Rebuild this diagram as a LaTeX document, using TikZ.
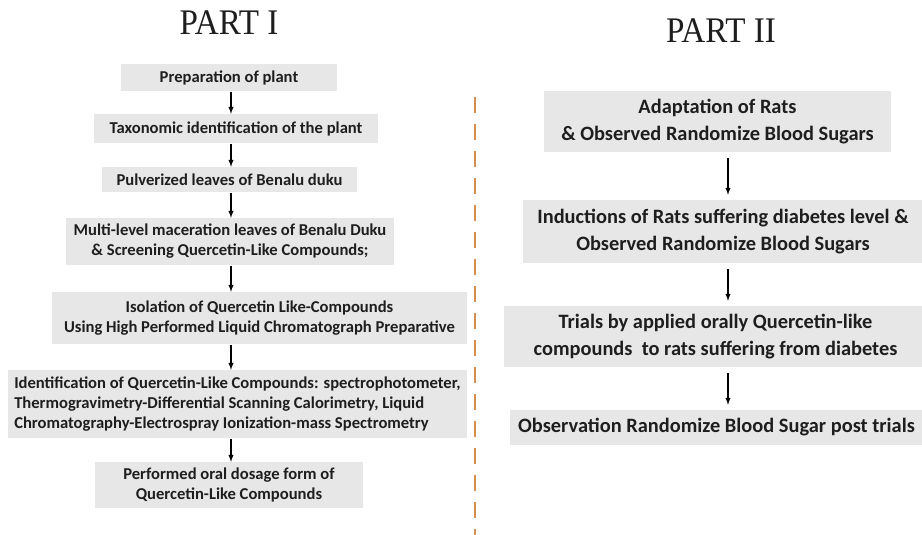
\documentclass[tikz,border=0pt]{standalone}
\usepackage{fontspec}
\setmainfont{Carlito}
\newfontfamily\partfont[FakeStretch=0.92]{Liberation Serif}
\usepackage{tikz}
\usetikzlibrary{arrows,positioning,calc}

\definecolor{boxgray}{RGB}{231,231,231}
\definecolor{inkgray}{RGB}{30,30,30}
\definecolor{splitorange}{RGB}{214,142,78}

\begin{document}
\begin{tikzpicture}[x=1pt,y=-1pt]
\tikzset{stage/.style={fill=boxgray,text=inkgray,align=center,inner sep=0pt,
font=\bfseries\fontsize{16.6}{20}\selectfont}}
\tikzset{stageR/.style={stage,font=\bfseries\fontsize{20.4}{26.5}\selectfont}}
\tikzset{flow/.style={draw=black,line width=1.4pt,-latex}}
\tikzset{part/.style={anchor=base,text=inkgray,font=\partfont\fontsize{36}{36}\selectfont}}
\useasboundingbox (0,0) rectangle (922,535);

\node[part] (partone) at (229,35) {PART I};
\node[part] (parttwo) at (721,43) {PART II};

\node[stage,minimum width=216pt,minimum height=27pt] (prep) at (229,77.5) {Preparation of plant};
\node[stage,minimum width=284pt,minimum height=29pt] (taxo) at (236,128.5) {Taxonomic identification of the plant};
\node[stage,minimum width=255pt,minimum height=25pt] (pulv) at (229.5,179.5) {Pulverized leaves of Benalu duku};
\node[stage,minimum width=328pt,minimum height=47pt] (macer) at (230,241.5)
{Multi-level maceration leaves of Benalu Duku\\\& Screening Quercetin-Like Compounds;};
\node[stage,minimum width=415pt,minimum height=52pt] (isol) at (259.5,318)
{Isolation of Quercetin Like-Compounds\\Using High Performed Liquid Chromatograph Preparative};
\node[stage,align=left,minimum width=459pt,minimum height=68pt] (ident) at (237.5,404)
{Identification of Quercetin-Like Compounds: spectrophotometer,\\Thermogravimetry-Differential Scanning Calorimetry, Liquid\\Chromatography-Electrospray Ionization-mass Spectrometry};
\node[stage,minimum width=268pt,minimum height=46pt] (oral) at (229,485)
{Performed oral dosage form of\\Quercetin-Like Compounds};

\node[stageR,minimum width=347pt,minimum height=61pt] (adapt) at (717.5,121.5)
{Adaptation of Rats\\\& Observed Randomize Blood Sugars};
\node[stageR,minimum width=400pt,minimum height=63pt] (induct) at (723,231.5)
{Inductions of Rats suffering diabetes level \&\\Observed Randomize Blood Sugars};
\node[stageR,minimum width=423pt,minimum height=61pt] (trial) at (715.5,336.5)
{Trials by applied orally Quercetin-like\\compounds\ \ to rats suffering from diabetes};
\node[stageR,minimum width=413pt,minimum height=35pt] (observ) at (716.5,427.5)
{Observation Randomize Blood Sugar post trials};

\coordinate (axisL) at (231,0);
\coordinate (axisR) at (728,0);
\foreach \a/\b in {prep/taxo,taxo/pulv,pulv/macer,macer/isol,isol/ident,ident/oral}
  \draw[flow,shorten <=1pt] (\a.south -| axisL) -- (\b.north -| axisL);
\foreach \a/\b in {adapt/induct,induct/trial,trial/observ}
  \draw[flow,shorten <=6pt,shorten >=5pt] (\a.south -| axisR) -- (\b.north -| axisR);

\coordinate (divtop) at (475,97);
\coordinate (divbot) at (475,535);
\draw[splitorange,line width=2pt,dash pattern=on 16pt off 11pt] (divtop) -- (divbot);
\end{tikzpicture}
\end{document}
